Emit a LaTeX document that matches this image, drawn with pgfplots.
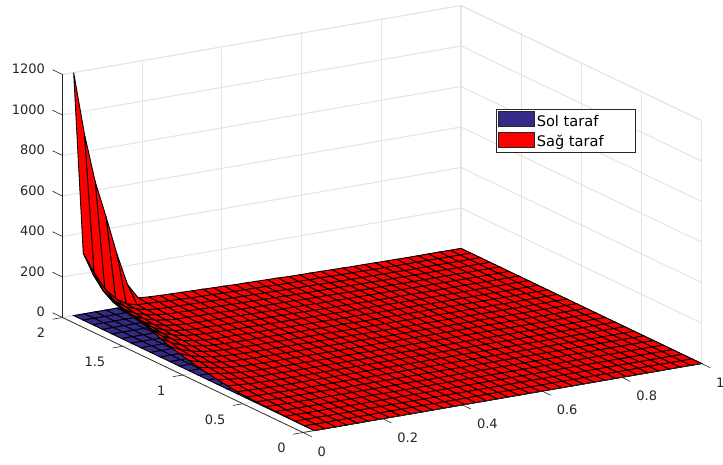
\documentclass[border=0pt]{standalone}
\usepackage{pgfplots}
\pgfplotsset{compat=1.18}
\usepackage{fontspec}
\setmainfont{DejaVu Sans}
\definecolor{axc}{rgb}{0.15,0.15,0.15}
\definecolor{grc}{rgb}{0.9,0.9,0.9}
\definecolor{solc}{rgb}{0.208,0.165,0.529}
\begin{document}
\begin{tikzpicture}
\path[use as bounding box] (-303pt,-31.5pt) rectangle (420pt,432.5pt);
\begin{axis}[
  at={(0pt,0pt)},anchor=origin,clip=false,
  x={(398.5pt,69pt)},y={(-120.25pt,57.5pt)},z={(0pt,0.2025pt)},
  xmin=0,xmax=1,ymin=0,ymax=2,zmin=0,zmax=1200,
  xtick={0,0.2,0.4,0.6,0.8,1},ytick={0,0.5,1,1.5,2},ztick={0,200,400,600,800,1000,1200},
  /pgf/number format/assume math mode=true,
  /pgf/number format/1000 sep={},
  tick label style={font=\fontsize{13}{15}\selectfont,text=axc},
  x tick label style={anchor=west,xshift=3pt,yshift=-15pt},
  y tick label style={anchor=east,xshift=-5pt,yshift=-14pt},
  z tick label style={anchor=east,xshift=-6pt,yshift=1.5pt},
  grid=major,grid style={grc,line width=1.1pt},
  axis line style={grc,line width=0.8pt},
  tick style={draw=none},
  major tick length=9pt,
  tick align=outside,
  point meta min=0,point meta max=2,
  legend style={at={(axis description cs:0.678,0.7585)},anchor=north west,draw=axc,line width=0.7pt,font=\fontsize{14.6}{16}\selectfont,inner sep=2pt,row sep=2pt},
  legend cell align=left,
  legend image code/.code={\draw[draw=axc,#1] (0pt,-5pt) rectangle (36pt,10pt);},
]
\addlegendimage{fill=solc}
\addlegendimage{fill=red}
\addplot3[surf,forget plot,shader=faceted,faceted color=black,line width=0.9pt,point meta=1,mesh/cols=11,colormap={solcm}{rgb255=(53,42,135) rgb255=(53,42,135)}] table {
.028 2 0
.055 2 0
.082 2 0
.109 2 0
.136 2 0
.163 2 0
.19 2 0
.217 2 0
.244 2 0
.271 2 0
1 2 0
.028 1.92 0
.055 1.92 0
.082 1.92 0
.109 1.92 0
.136 1.92 0
.163 1.92 0
.19 1.92 0
.217 1.92 0
.244 1.92 0
.271 1.92 0
1 1.92 0
.028 1.84 0
.055 1.84 0
.082 1.84 0
.109 1.84 0
.136 1.84 0
.163 1.84 0
.19 1.84 0
.217 1.84 0
.244 1.84 0
.271 1.84 0
1 1.84 0
.028 1.76 0
.055 1.76 0
.082 1.76 0
.109 1.76 0
.136 1.76 0
.163 1.76 0
.19 1.76 0
.217 1.76 0
.244 1.76 0
.271 1.76 0
1 1.76 0
.028 1.68 0
.055 1.68 0
.082 1.68 0
.109 1.68 0
.136 1.68 0
.163 1.68 0
.19 1.68 0
.217 1.68 0
.244 1.68 0
.271 1.68 0
1 1.68 0
.028 1.6 0
.055 1.6 0
.082 1.6 0
.109 1.6 0
.136 1.6 0
.163 1.6 0
.19 1.6 0
.217 1.6 0
.244 1.6 0
.271 1.6 0
1 1.6 0
.028 1.52 0
.055 1.52 0
.082 1.52 0
.109 1.52 0
.136 1.52 0
.163 1.52 0
.19 1.52 0
.217 1.52 0
.244 1.52 0
.271 1.52 0
1 1.52 0
.028 1.44 0
.055 1.44 0
.082 1.44 0
.109 1.44 0
.136 1.44 0
.163 1.44 0
.19 1.44 0
.217 1.44 0
.244 1.44 0
.271 1.44 0
1 1.44 0
.028 1.36 0
.055 1.36 0
.082 1.36 0
.109 1.36 0
.136 1.36 0
.163 1.36 0
.19 1.36 0
.217 1.36 0
.244 1.36 0
.271 1.36 0
1 1.36 0
.028 1.28 0
.055 1.28 0
.082 1.28 0
.109 1.28 0
.136 1.28 0
.163 1.28 0
.19 1.28 0
.217 1.28 0
.244 1.28 0
.271 1.28 0
1 1.28 0
.028 1.2 0
.055 1.2 0
.082 1.2 0
.109 1.2 0
.136 1.2 0
.163 1.2 0
.19 1.2 0
.217 1.2 0
.244 1.2 0
.271 1.2 0
1 1.2 0
.028 1.12 0
.055 1.12 0
.082 1.12 0
.109 1.12 0
.136 1.12 0
.163 1.12 0
.19 1.12 0
.217 1.12 0
.244 1.12 0
.271 1.12 0
1 1.12 0
.028 1.04 0
.055 1.04 0
.082 1.04 0
.109 1.04 0
.136 1.04 0
.163 1.04 0
.19 1.04 0
.217 1.04 0
.244 1.04 0
.271 1.04 0
1 1.04 0
.028 .96 0
.055 .96 0
.082 .96 0
.109 .96 0
.136 .96 0
.163 .96 0
.19 .96 0
.217 .96 0
.244 .96 0
.271 .96 0
1 .96 0
.028 .88 0
.055 .88 0
.082 .88 0
.109 .88 0
.136 .88 0
.163 .88 0
.19 .88 0
.217 .88 0
.244 .88 0
.271 .88 0
1 .88 0
.028 .8 0
.055 .8 0
.082 .8 0
.109 .8 0
.136 .8 0
.163 .8 0
.19 .8 0
.217 .8 0
.244 .8 0
.271 .8 0
1 .8 0
.028 .72 0
.055 .72 0
.082 .72 0
.109 .72 0
.136 .72 0
.163 .72 0
.19 .72 0
.217 .72 0
.244 .72 0
.271 .72 0
1 .72 0
.028 .64 0
.055 .64 0
.082 .64 0
.109 .64 0
.136 .64 0
.163 .64 0
.19 .64 0
.217 .64 0
.244 .64 0
.271 .64 0
1 .64 0
.028 .56 0
.055 .56 0
.082 .56 0
.109 .56 0
.136 .56 0
.163 .56 0
.19 .56 0
.217 .56 0
.244 .56 0
.271 .56 0
1 .56 0
.028 0 0
.055 0 0
.082 0 0
.109 0 0
.136 0 0
.163 0 0
.19 0 0
.217 0 0
.244 0 0
.271 0 0
1 0 0
};
\addplot3[surf,forget plot,shader=faceted,faceted color=black,line width=0.9pt,point meta=1,mesh/cols=37,colormap={redcm}{rgb255=(255,0,0) rgb255=(255,0,0)}] table {
.028 2 1200
.055 2 888
.082 2 643
.109 2 463
.136 2 271
.163 2 108
.19 2 32
.217 2 28
.244 2 26
.271 2 24
.298 2 23
.325 2 21
.352 2 20
.379 2 18
.406 2 17
.433 2 15
.46 2 14
.487 2 13
.514 2 12
.541 2 11
.568 2 9
.595 2 8
.622 2 8
.649 2 7
.676 2 6
.703 2 5
.73 2 4
.757 2 4
.784 2 3
.811 2 2
.838 2 2
.865 2 1
.892 2 1
.919 2 1
.946 2 1
.973 2 0
1 2 0
.028 1.92 330
.055 1.92 225
.082 1.92 137
.109 1.92 79
.136 1.92 44
.163 1.92 30
.19 1.92 28
.217 1.92 25
.244 1.92 22
.271 1.92 20
.298 1.92 18
.325 1.92 17
.352 1.92 16
.379 1.92 14
.406 1.92 13
.433 1.92 12
.46 1.92 11
.487 1.92 10
.514 1.92 8
.541 1.92 7
.568 1.92 7
.595 1.92 6
.622 1.92 6
.649 1.92 5
.676 1.92 4
.703 1.92 4
.73 1.92 3
.757 1.92 2
.784 1.92 2
.811 1.92 1
.838 1.92 1
.865 1.92 1
.892 1.92 1
.919 1.92 0
.946 1.92 0
.973 1.92 0
1 1.92 0
.028 1.84 250
.055 1.84 156
.082 1.84 99
.109 1.84 62
.136 1.84 41
.163 1.84 29
.19 1.84 22
.217 1.84 21
.244 1.84 20
.271 1.84 18
.298 1.84 17
.325 1.84 15
.352 1.84 14
.379 1.84 13
.406 1.84 12
.433 1.84 11
.46 1.84 10
.487 1.84 9
.514 1.84 8
.541 1.84 7
.568 1.84 7
.595 1.84 6
.622 1.84 5
.649 1.84 4
.676 1.84 3
.703 1.84 3
.73 1.84 3
.757 1.84 2
.784 1.84 2
.811 1.84 1
.838 1.84 1
.865 1.84 1
.892 1.84 1
.919 1.84 0
.946 1.84 0
.973 1.84 0
1 1.84 0
.028 1.76 195
.055 1.76 125
.082 1.76 81
.109 1.76 52
.136 1.76 35
.163 1.76 26
.19 1.76 20
.217 1.76 19
.244 1.76 18
.271 1.76 16
.298 1.76 15
.325 1.76 14
.352 1.76 13
.379 1.76 12
.406 1.76 11
.433 1.76 10
.46 1.76 9
.487 1.76 8
.514 1.76 7
.541 1.76 6
.568 1.76 6
.595 1.76 5
.622 1.76 5
.649 1.76 4
.676 1.76 3
.703 1.76 3
.73 1.76 2
.757 1.76 2
.784 1.76 2
.811 1.76 1
.838 1.76 1
.865 1.76 1
.892 1.76 1
.919 1.76 0
.946 1.76 0
.973 1.76 0
1 1.76 0
.028 1.68 168
.055 1.68 110
.082 1.68 71
.109 1.68 47
.136 1.68 31
.163 1.68 23
.19 1.68 18
.217 1.68 18
.244 1.68 16
.271 1.68 15
.298 1.68 14
.325 1.68 13
.352 1.68 12
.379 1.68 11
.406 1.68 10
.433 1.68 9
.46 1.68 9
.487 1.68 8
.514 1.68 6
.541 1.68 6
.568 1.68 6
.595 1.68 5
.622 1.68 4
.649 1.68 4
.676 1.68 3
.703 1.68 3
.73 1.68 2
.757 1.68 1
.784 1.68 1
.811 1.68 1
.838 1.68 1
.865 1.68 1
.892 1.68 1
.919 1.68 0
.946 1.68 0
.973 1.68 0
1 1.68 0
.028 1.6 150
.055 1.6 98
.082 1.6 64
.109 1.6 41
.136 1.6 28
.163 1.6 21
.19 1.6 17
.217 1.6 16
.244 1.6 15
.271 1.6 13
.298 1.6 13
.325 1.6 12
.352 1.6 11
.379 1.6 10
.406 1.6 9
.433 1.6 8
.46 1.6 8
.487 1.6 7
.514 1.6 6
.541 1.6 5
.568 1.6 5
.595 1.6 4
.622 1.6 4
.649 1.6 3
.676 1.6 3
.703 1.6 3
.73 1.6 2
.757 1.6 2
.784 1.6 1
.811 1.6 1
.838 1.6 1
.865 1.6 1
.892 1.6 1
.919 1.6 0
.946 1.6 0
.973 1.6 0
1 1.6 0
.028 1.52 138
.055 1.52 90
.082 1.52 59
.109 1.52 38
.136 1.52 25
.163 1.52 19
.19 1.52 15
.217 1.52 15
.244 1.52 13
.271 1.52 12
.298 1.52 12
.325 1.52 10
.352 1.52 10
.379 1.52 9
.406 1.52 8
.433 1.52 8
.46 1.52 7
.487 1.52 6
.514 1.52 5
.541 1.52 5
.568 1.52 5
.595 1.52 4
.622 1.52 3
.649 1.52 3
.676 1.52 2
.703 1.52 2
.73 1.52 2
.757 1.52 1
.784 1.52 1
.811 1.52 1
.838 1.52 1
.865 1.52 1
.892 1.52 1
.919 1.52 0
.946 1.52 0
.973 1.52 0
1 1.52 0
.028 1.44 125
.055 1.44 81
.082 1.44 53
.109 1.44 35
.136 1.44 24
.163 1.44 18
.19 1.44 14
.217 1.44 13
.244 1.44 12
.271 1.44 11
.298 1.44 10
.325 1.44 9
.352 1.44 9
.379 1.44 8
.406 1.44 7
.433 1.44 7
.46 1.44 6
.487 1.44 6
.514 1.44 5
.541 1.44 4
.568 1.44 4
.595 1.44 4
.622 1.44 3
.649 1.44 3
.676 1.44 2
.703 1.44 2
.73 1.44 2
.757 1.44 1
.784 1.44 1
.811 1.44 1
.838 1.44 1
.865 1.44 1
.892 1.44 0
.919 1.44 0
.946 1.44 0
.973 1.44 0
1 1.44 0
.028 1.36 112
.055 1.36 73
.082 1.36 47
.109 1.36 31
.136 1.36 21
.163 1.36 15
.19 1.36 12
.217 1.36 12
.244 1.36 11
.271 1.36 10
.298 1.36 9
.325 1.36 8
.352 1.36 8
.379 1.36 7
.406 1.36 6
.433 1.36 6
.46 1.36 6
.487 1.36 5
.514 1.36 4
.541 1.36 4
.568 1.36 4
.595 1.36 3
.622 1.36 3
.649 1.36 2
.676 1.36 2
.703 1.36 2
.73 1.36 1
.757 1.36 1
.784 1.36 1
.811 1.36 1
.838 1.36 0
.865 1.36 0
.892 1.36 0
.919 1.36 0
.946 1.36 0
.973 1.36 0
1 1.36 0
.028 1.28 92
.055 1.28 61
.082 1.28 40
.109 1.28 26
.136 1.28 18
.163 1.28 13
.19 1.28 11
.217 1.28 10
.244 1.28 9
.271 1.28 9
.298 1.28 8
.325 1.28 7
.352 1.28 7
.379 1.28 6
.406 1.28 6
.433 1.28 5
.46 1.28 5
.487 1.28 5
.514 1.28 4
.541 1.28 3
.568 1.28 3
.595 1.28 3
.622 1.28 2
.649 1.28 2
.676 1.28 2
.703 1.28 2
.73 1.28 1
.757 1.28 1
.784 1.28 1
.811 1.28 1
.838 1.28 0
.865 1.28 0
.892 1.28 0
.919 1.28 0
.946 1.28 0
.973 1.28 0
1 1.28 0
.028 1.2 75
.055 1.2 50
.082 1.2 33
.109 1.2 22
.136 1.2 15
.163 1.2 12
.19 1.2 9
.217 1.2 9
.244 1.2 8
.271 1.2 8
.298 1.2 7
.325 1.2 6
.352 1.2 6
.379 1.2 5
.406 1.2 5
.433 1.2 5
.46 1.2 4
.487 1.2 4
.514 1.2 3
.541 1.2 3
.568 1.2 3
.595 1.2 3
.622 1.2 2
.649 1.2 2
.676 1.2 1
.703 1.2 1
.73 1.2 1
.757 1.2 1
.784 1.2 1
.811 1.2 0
.838 1.2 0
.865 1.2 0
.892 1.2 0
.919 1.2 0
.946 1.2 0
.973 1.2 0
1 1.2 0
.028 1.12 62
.055 1.12 42
.082 1.12 28
.109 1.12 19
.136 1.12 13
.163 1.12 10
.19 1.12 8
.217 1.12 8
.244 1.12 7
.271 1.12 7
.298 1.12 6
.325 1.12 6
.352 1.12 5
.379 1.12 5
.406 1.12 4
.433 1.12 4
.46 1.12 4
.487 1.12 3
.514 1.12 3
.541 1.12 2
.568 1.12 2
.595 1.12 2
.622 1.12 2
.649 1.12 2
.676 1.12 1
.703 1.12 1
.73 1.12 1
.757 1.12 1
.784 1.12 1
.811 1.12 0
.838 1.12 0
.865 1.12 0
.892 1.12 0
.919 1.12 0
.946 1.12 0
.973 1.12 0
1 1.12 0
.028 1.04 50
.055 1.04 35
.082 1.04 23
.109 1.04 16
.136 1.04 11
.163 1.04 9
.19 1.04 7
.217 1.04 7
.244 1.04 6
.271 1.04 6
.298 1.04 5
.325 1.04 5
.352 1.04 5
.379 1.04 4
.406 1.04 4
.433 1.04 4
.46 1.04 3
.487 1.04 3
.514 1.04 2
.541 1.04 2
.568 1.04 2
.595 1.04 2
.622 1.04 2
.649 1.04 1
.676 1.04 1
.703 1.04 1
.73 1.04 1
.757 1.04 1
.784 1.04 1
.811 1.04 0
.838 1.04 0
.865 1.04 0
.892 1.04 0
.919 1.04 0
.946 1.04 0
.973 1.04 0
1 1.04 0
.028 .96 40
.055 .96 28
.082 .96 19
.109 .96 13
.136 .96 9
.163 .96 7
.19 .96 6
.217 .96 6
.244 .96 5
.271 .96 5
.298 .96 5
.325 .96 4
.352 .96 4
.379 .96 3
.406 .96 3
.433 .96 3
.46 .96 3
.487 .96 3
.514 .96 2
.541 .96 2
.568 .96 2
.595 .96 2
.622 .96 1
.649 .96 1
.676 .96 1
.703 .96 1
.73 .96 1
.757 .96 1
.784 .96 0
.811 .96 0
.838 .96 0
.865 .96 0
.892 .96 0
.919 .96 0
.946 .96 0
.973 .96 0
1 .96 0
.028 .88 31
.055 .88 23
.082 .88 15
.109 .88 10
.136 .88 8
.163 .88 6
.19 .88 5
.217 .88 5
.244 .88 4
.271 .88 4
.298 .88 4
.325 .88 3
.352 .88 3
.379 .88 3
.406 .88 3
.433 .88 2
.46 .88 2
.487 .88 2
.514 .88 2
.541 .88 2
.568 .88 2
.595 .88 1
.622 .88 1
.649 .88 1
.676 .88 1
.703 .88 1
.73 .88 1
.757 .88 1
.784 .88 0
.811 .88 0
.838 .88 0
.865 .88 0
.892 .88 0
.919 .88 0
.946 .88 0
.973 .88 0
1 .88 0
.028 .8 23
.055 .8 17
.082 .8 11
.109 .8 8
.136 .8 6
.163 .8 5
.19 .8 4
.217 .8 4
.244 .8 4
.271 .8 3
.298 .8 3
.325 .8 3
.352 .8 3
.379 .8 2
.406 .8 2
.433 .8 2
.46 .8 2
.487 .8 2
.514 .8 1
.541 .8 1
.568 .8 1
.595 .8 1
.622 .8 1
.649 .8 1
.676 .8 1
.703 .8 1
.73 .8 1
.757 .8 0
.784 .8 0
.811 .8 0
.838 .8 0
.865 .8 0
.892 .8 0
.919 .8 0
.946 .8 0
.973 .8 0
1 .8 0
.028 .72 16
.055 .72 12
.082 .72 8
.109 .72 6
.136 .72 5
.163 .72 4
.19 .72 3
.217 .72 3
.244 .72 3
.271 .72 3
.298 .72 3
.325 .72 2
.352 .72 2
.379 .72 2
.406 .72 2
.433 .72 2
.46 .72 2
.487 .72 1
.514 .72 1
.541 .72 1
.568 .72 1
.595 .72 1
.622 .72 1
.649 .72 1
.676 .72 1
.703 .72 1
.73 .72 0
.757 .72 0
.784 .72 0
.811 .72 0
.838 .72 0
.865 .72 0
.892 .72 0
.919 .72 0
.946 .72 0
.973 .72 0
1 .72 0
.028 .64 10
.055 .64 8
.082 .64 6
.109 .64 4
.136 .64 3
.163 .64 3
.19 .64 3
.217 .64 3
.244 .64 2
.271 .64 2
.298 .64 2
.325 .64 2
.352 .64 2
.379 .64 2
.406 .64 1
.433 .64 1
.46 .64 1
.487 .64 1
.514 .64 1
.541 .64 1
.568 .64 1
.595 .64 1
.622 .64 1
.649 .64 1
.676 .64 0
.703 .64 0
.73 .64 0
.757 .64 0
.784 .64 0
.811 .64 0
.838 .64 0
.865 .64 0
.892 .64 0
.919 .64 0
.946 .64 0
.973 .64 0
1 .64 0
.028 .56 7
.055 .56 5
.082 .56 4
.109 .56 3
.136 .56 2
.163 .56 2
.19 .56 2
.217 .56 2
.244 .56 2
.271 .56 2
.298 .56 2
.325 .56 1
.352 .56 1
.379 .56 1
.406 .56 1
.433 .56 1
.46 .56 1
.487 .56 1
.514 .56 1
.541 .56 1
.568 .56 1
.595 .56 1
.622 .56 0
.649 .56 0
.676 .56 0
.703 .56 0
.73 .56 0
.757 .56 0
.784 .56 0
.811 .56 0
.838 .56 0
.865 .56 0
.892 .56 0
.919 .56 0
.946 .56 0
.973 .56 0
1 .56 0
.028 .48 5
.055 .48 4
.082 .48 3
.109 .48 2
.136 .48 2
.163 .48 2
.19 .48 2
.217 .48 2
.244 .48 1
.271 .48 1
.298 .48 1
.325 .48 1
.352 .48 1
.379 .48 1
.406 .48 1
.433 .48 1
.46 .48 1
.487 .48 1
.514 .48 1
.541 .48 0
.568 .48 0
.595 .48 0
.622 .48 0
.649 .48 0
.676 .48 0
.703 .48 0
.73 .48 0
.757 .48 0
.784 .48 0
.811 .48 0
.838 .48 0
.865 .48 0
.892 .48 0
.919 .48 0
.946 .48 0
.973 .48 0
1 .48 0
.028 .4 4
.055 .4 3
.082 .4 2
.109 .4 2
.136 .4 1
.163 .4 1
.19 .4 1
.217 .4 1
.244 .4 1
.271 .4 1
.298 .4 1
.325 .4 1
.352 .4 1
.379 .4 1
.406 .4 0
.433 .4 0
.46 .4 0
.487 .4 0
.514 .4 0
.541 .4 0
.568 .4 0
.595 .4 0
.622 .4 0
.649 .4 0
.676 .4 0
.703 .4 0
.73 .4 0
.757 .4 0
.784 .4 0
.811 .4 0
.838 .4 0
.865 .4 0
.892 .4 0
.919 .4 0
.946 .4 0
.973 .4 0
1 .4 0
.028 .32 3
.055 .32 2
.082 .32 2
.109 .32 1
.136 .32 1
.163 .32 1
.19 .32 1
.217 .32 1
.244 .32 1
.271 .32 1
.298 .32 0
.325 .32 0
.352 .32 0
.379 .32 0
.406 .32 0
.433 .32 0
.46 .32 0
.487 .32 0
.514 .32 0
.541 .32 0
.568 .32 0
.595 .32 0
.622 .32 0
.649 .32 0
.676 .32 0
.703 .32 0
.73 .32 0
.757 .32 0
.784 .32 0
.811 .32 0
.838 .32 0
.865 .32 0
.892 .32 0
.919 .32 0
.946 .32 0
.973 .32 0
1 .32 0
.028 .24 2
.055 .24 2
.082 .24 1
.109 .24 1
.136 .24 1
.163 .24 0
.19 .24 0
.217 .24 0
.244 .24 0
.271 .24 0
.298 .24 0
.325 .24 0
.352 .24 0
.379 .24 0
.406 .24 0
.433 .24 0
.46 .24 0
.487 .24 0
.514 .24 0
.541 .24 0
.568 .24 0
.595 .24 0
.622 .24 0
.649 .24 0
.676 .24 0
.703 .24 0
.73 .24 0
.757 .24 0
.784 .24 0
.811 .24 0
.838 .24 0
.865 .24 0
.892 .24 0
.919 .24 0
.946 .24 0
.973 .24 0
1 .24 0
.028 .16 1
.055 .16 1
.082 .16 1
.109 .16 0
.136 .16 0
.163 .16 0
.19 .16 0
.217 .16 0
.244 .16 0
.271 .16 0
.298 .16 0
.325 .16 0
.352 .16 0
.379 .16 0
.406 .16 0
.433 .16 0
.46 .16 0
.487 .16 0
.514 .16 0
.541 .16 0
.568 .16 0
.595 .16 0
.622 .16 0
.649 .16 0
.676 .16 0
.703 .16 0
.73 .16 0
.757 .16 0
.784 .16 0
.811 .16 0
.838 .16 0
.865 .16 0
.892 .16 0
.919 .16 0
.946 .16 0
.973 .16 0
1 .16 0
.028 .08 1
.055 .08 0
.082 .08 0
.109 .08 0
.136 .08 0
.163 .08 0
.19 .08 0
.217 .08 0
.244 .08 0
.271 .08 0
.298 .08 0
.325 .08 0
.352 .08 0
.379 .08 0
.406 .08 0
.433 .08 0
.46 .08 0
.487 .08 0
.514 .08 0
.541 .08 0
.568 .08 0
.595 .08 0
.622 .08 0
.649 .08 0
.676 .08 0
.703 .08 0
.73 .08 0
.757 .08 0
.784 .08 0
.811 .08 0
.838 .08 0
.865 .08 0
.892 .08 0
.919 .08 0
.946 .08 0
.973 .08 0
1 .08 0
.028 0 0
.055 0 0
.082 0 0
.109 0 0
.136 0 0
.163 0 0
.19 0 0
.217 0 0
.244 0 0
.271 0 0
.298 0 0
.325 0 0
.352 0 0
.379 0 0
.406 0 0
.433 0 0
.46 0 0
.487 0 0
.514 0 0
.541 0 0
.568 0 0
.595 0 0
.622 0 0
.649 0 0
.676 0 0
.703 0 0
.73 0 0
.757 0 0
.784 0 0
.811 0 0
.838 0 0
.865 0 0
.892 0 0
.919 0 0
.946 0 0
.973 0 0
1 0 0
};
\legend{Sol taraf,Sağ taraf\hspace*{28pt}}
\draw[axc,line width=0.7pt] (axis cs:0,2,0)--(axis cs:0,0,0)--(axis cs:1,0,0);
\draw[axc,line width=0.7pt] (axis cs:0,2,0)--(axis cs:0,2,1200);
\pgfplotsinvokeforeach{0,0.2,0.4,0.6,0.8,1}{\draw[axc,line width=0.6pt] (axis cs:#1,0,0)--(axis cs:#1,-0.072,0);}
\pgfplotsinvokeforeach{0,0.5,1,1.5,2}{\draw[axc,line width=0.6pt] (axis cs:0,#1,0)--(axis cs:-0.025,#1,0);}
\pgfplotsinvokeforeach{0,200,400,600,800,1000,1200}{\draw[axc,line width=0.6pt] (axis cs:0,2,#1)--(axis cs:0,2.083,#1);}
\end{axis}
\end{tikzpicture}
\end{document}
